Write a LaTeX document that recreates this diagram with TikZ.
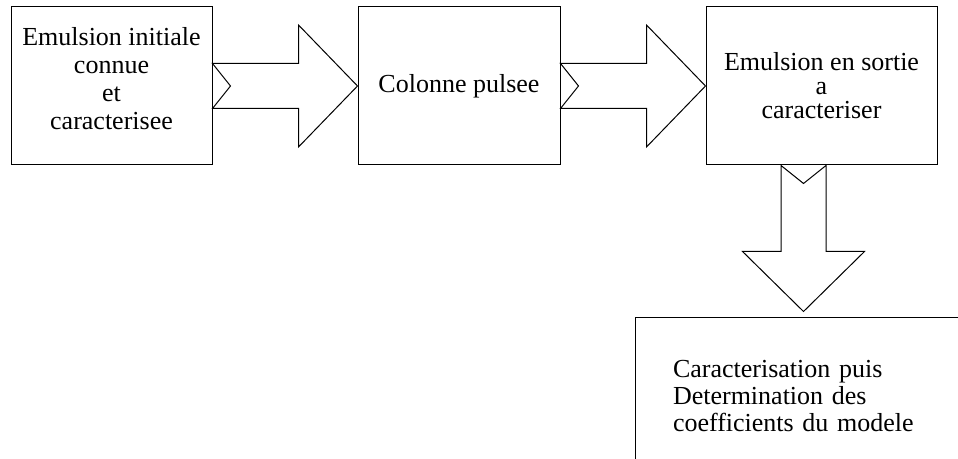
\documentclass[tikz,border=0pt]{standalone}
\usepackage{fontspec}
\setmainfont{Liberation Serif}
\usetikzlibrary{calc}
\usetikzlibrary{positioning}

\begin{document}
\begin{tikzpicture}[-,auto,node distance=72.5pt,line width=0.5pt]
	\tikzstyle{bloc}=[draw, rectangle, minimum height=79pt, inner sep=2pt, font=\fontsize{13}{14}\selectfont]
	\tikzstyle{fleche}=[draw, line join=miter]
	\useasboundingbox (0,0) rectangle (479pt,-229.5pt);
	\clip (0,0) rectangle (479pt,-229.5pt);
		\node[bloc, minimum width=100.5pt, align=center] (init) at (55.75pt,-43pt) {Emulsion initiale\\connue\\et\\caracterisee\\[-6pt]};
		\node[bloc, minimum width=101pt] (colonne) [right=of init] {Colonne pulsee};
		\node[bloc, minimum width=115.5pt, align=center, font=\fontsize{13}{12}\selectfont] (sortie) [right=of colonne] {Emulsion en sortie\\a\\caracteriser};
		\node[draw, text width=170pt, align=left, inner xsep=19pt, inner ysep=21pt, text depth=30pt, font=\fontsize{13}{13.5}\selectfont] (modele) [below right=76pt and -35.5pt of sortie.south west] {Caracterisation puis\\Determination des\\coefficients du modele};
		% fleches larges
		\path[fleche] (init.east) ++(0,11.25pt) -- ++(43pt,0) -- ++(0,19.25pt) -- (colonne.west) -- ++(-29.5pt,-30.5pt) -- ++(0,19.25pt) -- ++(-43pt,0) -- ++(9pt,11.25pt) -- cycle;
		\path[fleche] (colonne.east) ++(0,11.25pt) -- ++(43pt,0) -- ++(0,19.25pt) -- (sortie.west) -- ++(-29.5pt,-30.5pt) -- ++(0,19.25pt) -- ++(-43pt,0) -- ++(9pt,11.25pt) -- cycle;
		\path[fleche] ($(sortie.south)+(-20.25pt,0)$) -- ++(0,-43pt) -- ++(-19.25pt,0) -- ++(30.5pt,-30pt) -- ++(30.5pt,30pt) -- ++(-19.25pt,0) -- ++(0,43pt) -- ++(-11.25pt,-9pt) -- cycle;
\end{tikzpicture}
\end{document}
